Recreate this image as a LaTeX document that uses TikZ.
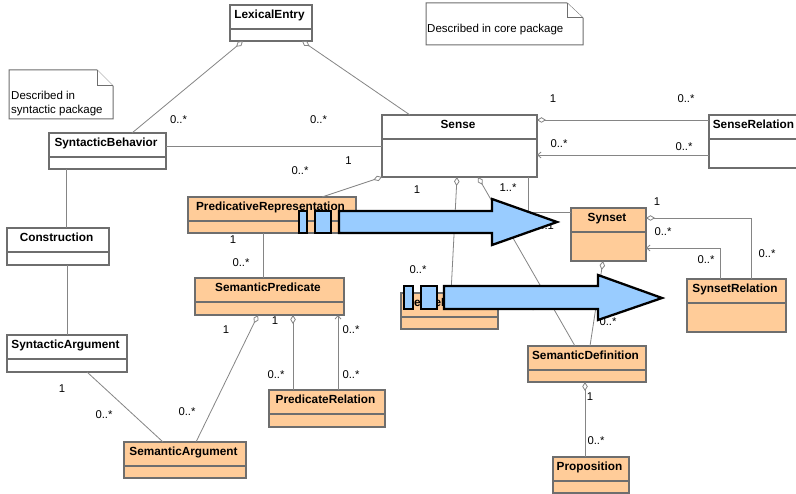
\documentclass[tikz,border=0pt]{standalone}
\usepackage{fontspec}
\setmainfont{Liberation Sans}
\usetikzlibrary{arrows.meta}

\definecolor{clsfill}{HTML}{FFCC99}
\definecolor{clsline}{HTML}{6E6E6E}
\definecolor{conline}{HTML}{858585}
\definecolor{bigarrow}{HTML}{99CCFF}

\tikzset{
  classbox/.style={draw=clsline, line width=1.1pt, inner sep=0pt, outer sep=0pt, anchor=north west},
  plainfill/.style={fill=white},
  semfill/.style={fill=clsfill},
  classtitle/.style={font=\bfseries\fontsize{11.8}{13}\selectfont, inner sep=0pt, anchor=base},
  mult/.style={font=\fontsize{11.3}{13}\selectfont, inner sep=0pt},
  notebox/.style={draw=clsline, line width=1pt, fill=white},
  notetext/.style={font=\fontsize{11.5}{13.3}\selectfont, inner sep=0pt, anchor=base west},
  assoc/.style={draw=conline, line width=0.8pt},
  agg/.style={assoc, {Diamond[open, length=9pt, width=5.5pt]}-},
  nav/.style={assoc, -{Straight Barb[length=3.5pt, width=6pt]}},
  blockarrow/.style={fill=bigarrow, draw=black, line width=2.3pt, line join=miter},
}

% class box: name, x1, y1, x2, y2, title, fill style
\newcommand\umlclass[7]{%
  \node[classbox,#7,minimum width={#4pt-#2pt},minimum height={#5pt-#3pt}] (#1) at (#2,#3) {};
  \draw[draw=clsline,line width=1.1pt] ([yshift=-24pt]#1.north west) -- ([yshift=-24pt]#1.north east);
  \node[classtitle] (#1-title) at ([xshift=-1.5pt,yshift=-13.5pt]#1.north) {#6};
}

\begin{document}
\begin{tikzpicture}[x=1pt,y=-1pt]
\useasboundingbox (0,0) rectangle (796,494);
\clip (0,0) rectangle (796,494);
\fill[white] (0,0) rectangle (796,494);

% notes
\draw[notebox] (9,70) -- (97,70) -- (113,86) -- (113,119) -- (9,119) -- cycle;
\draw[notebox] (97,70) -- (97,86) -- (113,86);
\node[notetext] (note1a) at (11,100) {Described in};
\node[notetext] (note1b) at (11,113.3) {syntactic package};
\draw[notebox] (426,3) -- (567,3) -- (583,18) -- (583,45) -- (426,45) -- cycle;
\draw[notebox] (567,3) -- (567,18) -- (583,18);
\node[notetext] (note2) at (427,32.3) {Described in core package};

% classes
\umlclass{lex}{230}{5}{312}{41}{LexicalEntry}{plainfill}
\umlclass{synb}{49}{133}{166}{169}{SyntacticBehavior}{plainfill}
\umlclass{sense}{382}{115}{537}{177}{Sense}{plainfill}
\umlclass{senserel}{709}{115}{801}{168}{SenseRelation}{plainfill}
\umlclass{constr}{7}{228}{109}{265}{Construction}{plainfill}
\umlclass{synarg}{7}{335}{127}{372}{SyntacticArgument}{plainfill}
\umlclass{predrep}{188}{197}{356}{233}{PredicativeRepresentation}{semfill}
\umlclass{sempred}{195}{278}{344}{315}{SemanticPredicate}{semfill}
\umlclass{predrel}{269}{390}{385}{427}{PredicateRelation}{semfill}
\umlclass{semarg}{124}{442}{246}{478}{SemanticArgument}{semfill}
\umlclass{sensex}{401}{293}{498}{329}{SenseExample}{semfill}
\umlclass{semdef}{528}{346}{646}{382}{SemanticDefinition}{semfill}
\umlclass{prop}{553}{457}{629}{493}{Proposition}{semfill}
\umlclass{synset}{571}{208}{646}{261}{Synset}{semfill}
\umlclass{synrel}{687}{279}{786}{332}{SynsetRelation}{semfill}

% associations
\draw[agg] ([xshift=13pt]lex.south west) -- ([xshift=83pt]synb.north west);
\draw[agg] ([xshift=72pt]lex.south west) -- ([xshift=28pt]sense.north west);
\draw[assoc] (sense.west) -- (sense.west -| synb.east);
\draw[assoc] ([xshift=17pt]synb.south west) -- ([xshift=17pt]synb.south west |- constr.north);
\draw[assoc] ([xshift=60pt]constr.south west) -- ([xshift=60pt]constr.south west |- synarg.north);
\draw[assoc] ([xshift=80pt]synarg.south west) -- ([xshift=39pt]semarg.north west);
\draw[agg] ([xshift=63pt]sempred.south west) -- ([xshift=72pt]semarg.north west);
\draw[agg] ([xshift=98pt]sempred.south west) -- ([xshift=24pt]predrel.north west);
\draw[nav] ([xshift=69pt]predrel.north west) -- ([xshift=69pt]predrel.north west |- sempred.south);
\draw[assoc] ([xshift=75pt]predrep.south west) -- ([xshift=75pt]predrep.south west |- sempred.north);
\draw[agg] (sense.south west) -- ([xshift=134pt]predrep.north west);
\draw[agg] ([xshift=75pt]sense.south west) -- ([xshift=50pt]sensex.north west);
\draw[agg] ([xshift=96pt]sense.south west) -- ([xshift=47pt]semdef.north west);
\draw[assoc] ([xshift=146pt]sense.south west) |- ([yshift=-4pt]synset.north west);
\draw[agg] ([xshift=32pt]synset.south west) -- ([xshift=62pt]semdef.north west);
\draw[agg] ([xshift=57pt]semdef.south west) -- ([xshift=32pt]prop.north west);
\draw[agg] ([yshift=-5pt]sense.north east) -- ([yshift=-5pt]senserel.north west);
\draw[nav] ([yshift=-40pt]senserel.north west) -- ([yshift=-40pt]senserel.north west -| sense.east);
\draw[agg] ([yshift=-10pt]synset.north east) -| ([xshift=64pt]synrel.north west);
\draw[nav] ([xshift=33pt]synrel.north west) |- ([yshift=-40pt]synset.north east);

% multiplicities
\node[mult] (m1) at (178.5,119.5) {0..*};
\node[mult] (m2) at (318.5,119.5) {0..*};
\node[mult] (m3) at (348.5,161) {1};
\node[mult] (m4) at (300,171) {0..*};
\node[mult] (m5) at (233,240) {1};
\node[mult] (m6) at (241,263) {0..*};
\node[mult] (m7) at (226,330) {1};
\node[mult] (m8) at (275,321) {1};
\node[mult] (m9) at (351,330) {0..*};
\node[mult] (m10) at (276,375) {0..*};
\node[mult] (m11) at (351,375) {0..*};
\node[mult] (m12) at (62,389) {1};
\node[mult] (m13) at (104,415) {0..*};
\node[mult] (m14) at (187,412) {0..*};
\node[mult] (m15) at (553,99) {1};
\node[mult] (m16) at (686,99) {0..*};
\node[mult] (m17) at (559,144) {0..*};
\node[mult] (m18) at (684,147) {0..*};
\node[mult] (m19) at (417,189.5) {1};
\node[mult] (m20) at (508,188) {1..*};
\node[mult] (m21) at (657,202) {1};
\node[mult] (m22) at (663,232) {0..*};
\node[mult] (m23) at (706,260) {0..*};
\node[mult] (m24) at (767,254) {0..*};
\node[mult] (m25) at (418,270) {0..*};
\node[mult] (m26) at (486,230) {0..*};
\node[mult] (m27) at (544.5,226) {0..1};
\node[mult] (m28) at (538.5,307) {0..*};
\node[mult] (m29) at (608,322) {0..*};
\node[mult] (m30) at (590,397) {1};
\node[mult] (m31) at (596,441) {0..*};

% block arrows laid over the diagram
\filldraw[blockarrow] (299,211) rectangle (307,233);
\filldraw[blockarrow] (315,211) rectangle (331,233);
\filldraw[blockarrow] (339,211) -- (492,211) -- (492,199) -- (557,222) -- (492,245) -- (492,233) -- (339,233) -- cycle;
\filldraw[blockarrow] (404,286) rectangle (413,309);
\filldraw[blockarrow] (421,286) rectangle (437,309);
\filldraw[blockarrow] (444,286) -- (598,286) -- (598,275) -- (662,298) -- (598,320) -- (598,309) -- (444,309) -- cycle;
\end{tikzpicture}
\end{document}
